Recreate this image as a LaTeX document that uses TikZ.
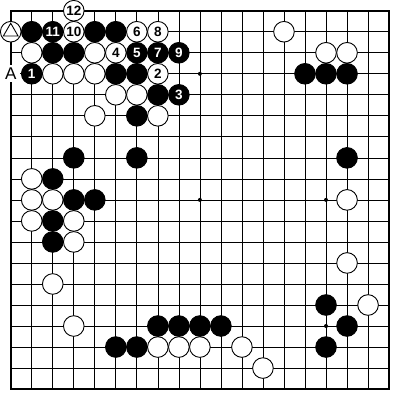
\documentclass[tikz,border=0pt]{standalone}
\usepackage{fontspec}
\setmainfont{Liberation Sans}
\begin{document}
\begin{tikzpicture}[x=21pt,y=-21pt,
  gridline/.style={line width=0.7pt,black},
  edgeline/.style={line width=1.8pt,black},
  stone/.style={circle,minimum size=20.6pt,inner sep=0pt,line width=0.9pt,draw=black,font=\fontsize{13.5}{13.5}\selectfont\bfseries},
  ws/.style={stone,fill=white,text=black},
  bs/.style={stone,fill=black,text=white},
  hoshi/.style={circle,fill=black,minimum size=4pt,inner sep=0pt},
  lbl/.style={fill=white,minimum width=19pt,minimum height=17pt,inner sep=0pt,font=\fontsize{17}{17}\selectfont}]
\useasboundingbox (-0.51,-0.51) rectangle (18.52,18.52);
\fill[white] (-0.51,-0.51) rectangle (18.52,18.52);
\foreach \i in {1,...,17} {
  \draw[gridline] (\i,0) -- (\i,18);
  \draw[gridline] (0,\i) -- (18,\i);
}
\draw[edgeline] (0,0) rectangle (18,18);
\foreach \c/\r in {9/3,9/9,15/9,15/15}
  \node[hoshi] (h-\c-\r) at (\c,\r) {};
% label A
\node[lbl] (lblA) at (0,3) {A};
% white stones
\foreach \c/\r/\t in {3/0/12,0/1/,3/1/10,6/1/6,7/1/8,1/2/,4/2/,5/2/4,2/3/,3/3/,4/3/,7/3/2,
  5/4/,6/4/,4/5/,7/5/,13/1/,15/2/,16/2/,1/8/,1/9/,2/9/,1/10/,3/10/,3/11/,16/9/,16/12/,
  2/13/,3/15/,7/16/,8/16/,9/16/,11/16/,12/17/,17/14/}
  \node[ws] (w-\c-\r) at (\c,\r) {\t};
% black stones
\foreach \c/\r/\t in {1/1/,2/1/11,4/1/,5/1/,2/2/,3/2/,6/2/5,7/2/7,8/2/9,1/3/1,5/3/,6/3/,
  7/4/,8/4/3,6/5/,3/7/,6/7/,2/8/,3/9/,4/9/,2/10/,2/11/,14/3/,15/3/,16/3/,16/7/,
  7/15/,8/15/,9/15/,10/15/,5/16/,6/16/,15/14/,16/15/,15/16/}
  \node[bs] (b-\c-\r) at (\c,\r) {\t};
% triangle mark
\draw[line width=0.9pt] ([shift={(90:8.5pt)}]w-0-1.center) -- ([shift={(210:8.5pt)}]w-0-1.center)
  -- ([shift={(330:8.5pt)}]w-0-1.center) -- cycle;
\end{tikzpicture}
\end{document}
